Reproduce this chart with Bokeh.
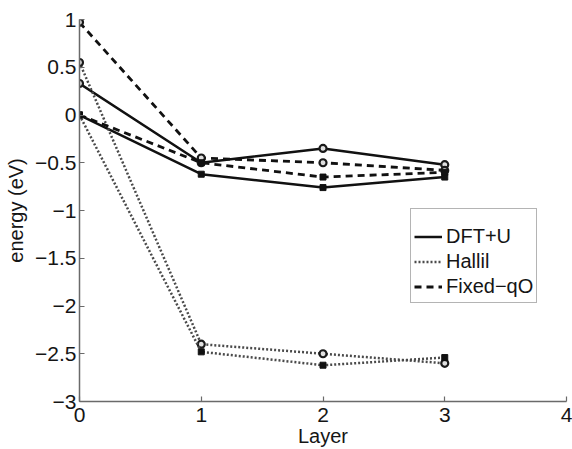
from bokeh.plotting import figure
from bokeh.models import FixedTicker, Legend, LegendItem, Range1d
from bokeh.embed import file_html
from bokeh.resources import INLINE

layers = [0, 1, 2, 3]
dft_circ = [0.33, -0.50, -0.35, -0.52]
dft_sq = [0.0, -0.62, -0.76, -0.65]
hallil_circ = [0.55, -2.40, -2.50, -2.60]
hallil_sq = [0.0, -2.48, -2.62, -2.54]
fixed_circ = [0.97, -0.45, -0.50, -0.58]
fixed_sq = [0.0, -0.50, -0.65, -0.60]

x_ticks = [0, 1, 2, 3, 4]
y_ticks = [-3, -2.5, -2, -1.5, -1, -0.5, 0, 0.5, 1]
y_tick_labels = {-3: "\u22123", -2.5: "\u22122.5", -2: "\u22122", -1.5: "\u22121.5",
                 -1: "\u22121", -0.5: "\u22120.5", 0: "0", 0.5: "0.5", 1: "1"}

FONT = "Liberation Sans"
TXT = "#151515"

p = figure(width=572, height=449, output_backend="svg", toolbar_location=None,
           x_range=Range1d(0, 4), y_range=Range1d(-3, 1),
           min_border_left=79, min_border_right=6, min_border_top=19, min_border_bottom=47)
p.outline_line_color = None
p.xgrid.visible = False
p.ygrid.visible = False
p.background_fill_color = "white"

for ax in (p.xaxis[0], p.yaxis[0]):
    ax.axis_line_color = "#6a6a6a"
    ax.axis_line_width = 1.5
    ax.major_tick_line_color = "#6a6a6a"
    ax.major_tick_line_width = 1.2
    ax.major_tick_in = 5
    ax.major_tick_out = 0
    ax.minor_tick_line_color = None
    ax.major_label_text_font = FONT
    ax.major_label_text_font_size = "21px"
    ax.major_label_text_color = TXT
    ax.axis_label_text_font = FONT
    ax.axis_label_text_font_size = "20px"
    ax.axis_label_text_font_style = "normal"
    ax.axis_label_text_color = TXT

p.xaxis.ticker = FixedTicker(ticks=x_ticks)
p.yaxis.ticker = FixedTicker(ticks=y_ticks)
p.yaxis.major_label_overrides = y_tick_labels
p.xaxis.axis_label = "Layer"
p.yaxis.axis_label = "energy (eV)"
p.xaxis.major_label_standoff = 6
p.yaxis.major_label_standoff = 3
p.xaxis.axis_label_standoff = 0
p.yaxis.axis_label_standoff = 5

def series(y, dash, color, width, marker):
    r = p.line(layers, y, line_color=color, line_width=width, line_dash=dash)
    if marker == "circle":
        p.scatter(layers, y, marker="circle", size=7, line_color="#1a1a1a",
                  line_width=2.2, fill_color="#e0e0e0")
    else:
        p.scatter(layers, y, marker="square", size=6, line_color="#111111",
                  line_width=1, fill_color="#111111")
    return r

r_dft = series(dft_circ, "solid", "#111111", 2.5, "circle")
series(dft_sq, "solid", "#111111", 2.5, "square")
r_hal = series(hallil_circ, "2 2", "#4a4a4a", 2.5, "circle")
series(hallil_sq, "2 2", "#4a4a4a", 2.5, "square")
r_fix = series(fixed_circ, "7 5", "#111111", 2.8, "circle")
series(fixed_sq, "7 5", "#111111", 2.8, "square")

legend = Legend(items=[LegendItem(label="DFT+U", renderers=[r_dft]),
                       LegendItem(label="Hallil", renderers=[r_hal]),
                       LegendItem(label="Fixed\u2212qO", renderers=[r_fix])],
                location=(331, 98))
legend.title = " "
legend.title_text_font_size = "8px"
legend.title_standoff = 3
legend.padding = 3
legend.spacing = 0
legend.margin = 0
legend.label_height = 25
legend.glyph_height = 25
legend.glyph_width = 28
legend.label_standoff = 4
legend.label_text_font = FONT
legend.label_text_font_size = "20px"
legend.label_text_color = TXT
legend.border_line_color = "#6a6a6a"
legend.border_line_width = 1.5
legend.background_fill_color = "white"
legend.background_fill_alpha = 1
p.add_layout(legend)

open("out.html", "w").write(file_html(p, INLINE))
